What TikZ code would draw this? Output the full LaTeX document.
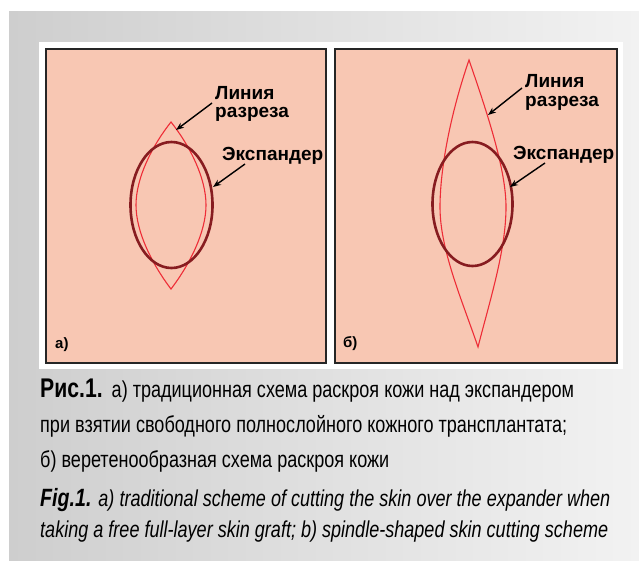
\documentclass[tikz,border=0pt]{standalone}
\usepackage{fontspec}
\setmainfont{Liberation Sans}
\newfontfamily\capfont{Liberation Sans}[FakeStretch=0.785]
\usetikzlibrary{arrows.meta}
\definecolor{skin}{RGB}{248,199,179}
\definecolor{expc}{RGB}{135,28,32}
\definecolor{cutc}{RGB}{238,45,55}
\definecolor{bgl}{RGB}{206,206,206}
\definecolor{bgr}{RGB}{242,242,242}
\tikzset{
  panel/.style={fill=skin, draw=black!85, line width=2pt},
  expander/.style={draw=expc, line width=2.6pt},
  cutline/.style={draw=cutc, line width=1.1pt},
  lab/.style={font=\bfseries\fontsize{19}{21}\selectfont, inner sep=0pt, anchor=base west},
  plab/.style={font=\bfseries\fontsize{15}{17}\selectfont, inner sep=0pt, anchor=base west},
  ptr/.style={draw=black, line width=1.4pt, -{Stealth[length=8pt,width=6pt]}},
  capline/.style={font=\capfont\fontsize{23}{26}\selectfont, inner sep=0pt, anchor=base west}
}
\begin{document}
\begin{tikzpicture}[x=1pt,y=-1pt]
\useasboundingbox (0,0) rectangle (639,560);
\fill[white] (0,0) rectangle (639,560);
\shade[left color=bgl, right color=bgr] (9,11) rectangle (639,560);
\fill[white] (39,42) rectangle (623,369);
% panels
\draw[panel] (46,49) rectangle (326,363);
\draw[panel] (335,49) rectangle (617,363);
% panel a
\draw[cutline] (171,122) .. controls (152,146) and (136,178) .. (136,205)
  .. controls (136,232) and (152,264) .. (171,289)
  .. controls (190,264) and (206,232) .. (206,205)
  .. controls (206,178) and (190,146) .. (171,122) -- cycle;
\draw[expander] (171.5,205) ellipse [x radius=41pt, y radius=63pt];
\node[lab] (la1) at (215,99) {Линия};
\node[lab] (la2) at (215,117) {разреза};
\node[lab] (ea) at (222,160) {Экспандер};
\coordinate (la0) at (212,103);
\coordinate (lat) at (176,130);
\coordinate (ea0) at (245,164);
\coordinate (eat) at (213,187);
\draw[ptr] (la0) -- (lat);
\draw[ptr] (ea0) -- (eat);
\node[plab] (pa) at (55,348) {а)};
% panel b
\draw[cutline] (469,60) .. controls (488,115) and (506,170) .. (506,207)
  .. controls (506,250) and (490,300) .. (478,347)
  .. controls (462,300) and (440,250) .. (440,207)
  .. controls (440,170) and (450,115) .. (469,60) -- cycle;
\draw[expander] (472.5,204) ellipse [x radius=40pt, y radius=62pt];
\node[lab] (lb1) at (525,87) {Линия};
\node[lab] (lb2) at (525,106) {разреза};
\node[lab] (eb) at (513,159) {Экспандер};
\coordinate (lb0) at (522,88);
\coordinate (lbt) at (488,115);
\coordinate (eb0) at (545,163);
\coordinate (ebt) at (510,187);
\draw[ptr] (lb0) -- (lbt);
\draw[ptr] (eb0) -- (ebt);
\node[plab] (pb) at (343,347) {б)};
% caption
\node[capline] (c1) at (40,397) {{\bfseries\fontsize{27}{28}\selectfont Рис.1.}\hspace{9pt}а) традиционная схема раскроя кожи над экспандером};
\node[capline] (c2) at (40,432) {при взятии свободного полнослойного кожного трансплантата;};
\node[capline] (c3) at (40,467) {б) веретенообразная схема раскроя кожи};
\node[capline] (c4) at (40,506) {\itshape{\bfseries\fontsize{25}{28}\selectfont Fig.1.}\hspace{7pt}a) traditional scheme of cutting the skin over the expander when};
\node[capline] (c5) at (40,537) {\itshape taking a free full-layer skin graft; b) spindle-shaped skin cutting scheme};
\end{tikzpicture}
\end{document}
